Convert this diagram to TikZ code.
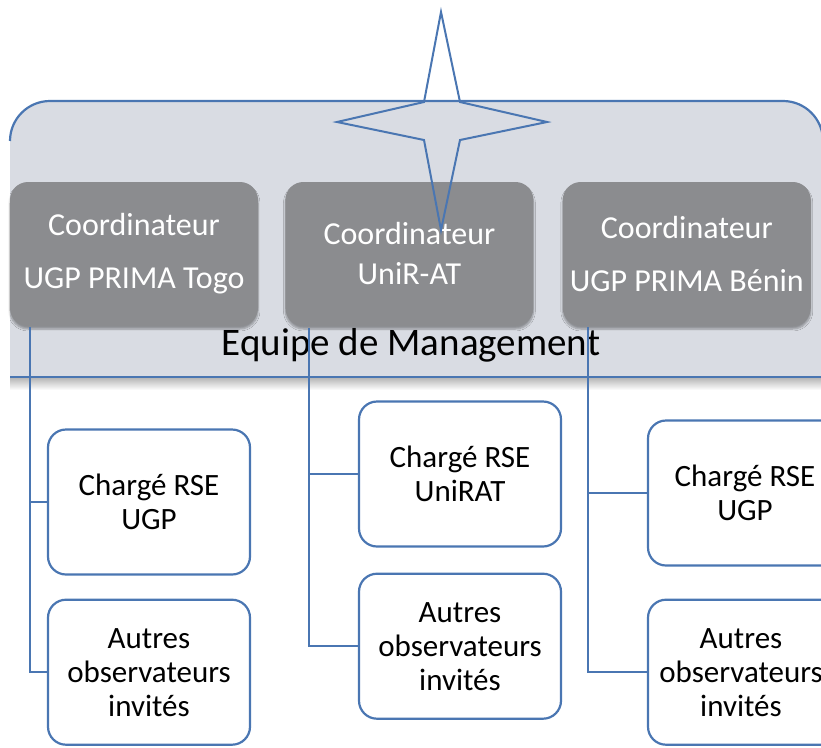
\documentclass[tikz,border=0pt]{standalone}
\usepackage{fontspec}
\setmainfont{Carlito}
\usepackage{xcolor}
\usepackage{tikz}
\usetikzlibrary{positioning,shadows.blur}
\definecolor{hgBlau}{HTML}{4A76B2}
\definecolor{hgFlaeche}{HTML}{D9DCE3}
\definecolor{kopfGrau}{HTML}{8B8C8F}
\tikzstyle{kopf} = [rectangle, rounded corners=18pt, fill=kopfGrau, text=white,
	minimum width=248pt, minimum height=144pt, align=center,
	font=\fontsize{32}{32}\selectfont,
	blur shadow={shadow xshift=0pt, shadow yshift=-3pt, shadow blur steps=6, shadow opacity=35}]
\tikzstyle{kasten} = [rectangle, rounded corners=18pt, draw=hgBlau, line width=2.2pt, fill=white,
	minimum width=202pt, minimum height=145pt, align=center,
	font=\fontsize{31}{34}\selectfont]
\tikzstyle{linie} = [draw=hgBlau, line width=2.2pt]

\begin{document}
\begin{tikzpicture}[x=1pt, y=-1pt, node distance=27pt]
		\useasboundingbox (0,0) rectangle (821,747);
		% Hintergrund Equipe
		\shade[top color=black!30, bottom color=white] (10,377) rectangle (821,390);
		\fill[hgFlaeche] (10,377) [rounded corners=40pt] -- (10,101) -- (823,101) [sharp corners] -- (823,377) -- cycle;
		\draw[linie] (10,141) [rounded corners=40pt] -- (10,101) -- (823,101) [sharp corners] -- (823,377);
		
		\node[kopf] (togo) at (134,254) {Coordinateur\\[21pt]UGP PRIMA Togo};		% Koordinator Togo
		\node[kopf, right=27pt of togo] (unir) {Coordinateur\\[8pt]UniR-AT};	 	% Koordinator UniR-AT
		\node[kopf, right=29pt of unir] (benin) {Coordinateur\\[21pt]UGP PRIMA Bénin};	% Koordinator Benin
		\node[anchor=base, font=\fontsize{39}{39}\selectfont] (team) at (411,355) {Equipe de Management};
		\draw[linie] (10,377) -- (821,377);
		
		\node[kasten] (togo-rse) at (149,502) {Chargé RSE\\UGP};
		\node[kasten, below=23pt of togo-rse] (togo-obs) {Autres\\observateurs\\invités};
		\node[kasten] (unir-rse) at (460,474) {Chargé RSE\\UniRAT};
		\node[kasten, below=25pt of unir-rse] (unir-obs) {Autres\\observateurs\\invités};
		\node[kasten] (benin-rse) at (749,493) {Chargé RSE\rule{8pt}{0pt}\\UGP\rule{8pt}{0pt}};
		\node[kasten, below=32pt of benin-rse] (benin-obs) {Autres\rule{16pt}{0pt}\\observateurs\rule{16pt}{0pt}\\invités\rule{16pt}{0pt}};
		
		% Verbindungen
		\coordinate (togo-s) at (30,327);
		\coordinate (unir-s) at (309,328);
		\coordinate (benin-s) at (588,327);
		\draw[linie] (togo-s) |- (togo-rse.west);
		\draw[linie] (togo-s) |- (togo-obs.west);
		\draw[linie] (unir-s) |- (unir-rse.west);
		\draw[linie] (unir-s) |- (unir-obs.west);
		\draw[linie] (benin-s) |- (benin-rse.west);
		\draw[linie] (benin-s) |- (benin-obs.west);
		
		% Stern
		\draw[hgBlau, line width=2pt, line join=miter] (441,12) -- (460,102) -- (547,122) -- (460,140) -- (441,230) -- (424,140) -- (337,122) -- (424,102) -- cycle;
\end{tikzpicture}
\end{document}
